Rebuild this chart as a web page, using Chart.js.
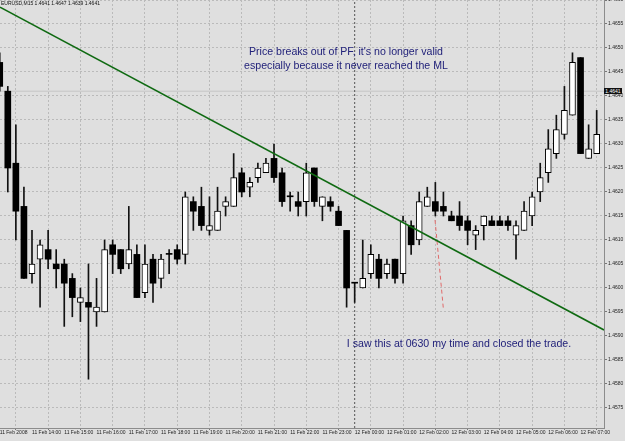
<!DOCTYPE html>
<html>
<head>
<meta charset="utf-8">
<script src="https://cdn.jsdelivr.net/npm/chart.js@4.4.1/dist/chart.umd.min.js"></script>
<style>
html,body{margin:0;padding:0;background:#dfdfdf;}
#wrap{position:relative;width:625px;height:441px;overflow:hidden;background:#dfdfdf;}
canvas{position:absolute;left:0;top:0;}
.note{position:absolute;font-family:'Liberation Sans',Arial,sans-serif;font-size:10.6px;color:#22227a;white-space:nowrap;text-align:center;line-height:13px;width:300px;}
.hdr{position:absolute;left:1px;top:0px;font-family:'Liberation Sans',Arial,sans-serif;font-size:5px;line-height:7px;color:#111;white-space:nowrap;}
.bid{position:absolute;left:604px;width:18px;height:6px;background:#111;color:#fff;font-family:'Liberation Sans',Arial,sans-serif;font-size:5px;line-height:6px;text-align:center;}
</style>
</head>
<body>
<div id="wrap">
<canvas id="c" width="625" height="441"></canvas>
<div class="hdr" id="hdr"></div>
<div class="bid" id="bidLbl"></div>
<div class="note" style="left:196px;top:45px;">Price breaks out of PF, it's no longer valid</div>
<div class="note" style="left:196px;top:59px;">especially because it never reached the ML</div>
<div class="note" style="left:309px;top:337px;">I saw this at 0630 my time and closed the trade.</div>
</div>
<script>
// ---- data (EURUSD M15, 11 Feb 2008 13:00 -> 12 Feb 07:30) ----
const opens  = [1.4647,1.4641,1.4626,1.4617,1.4603,1.4606,1.4608,1.4605,1.4605,1.4602,
                1.4597,1.4597,1.4595,1.4595,1.4609,1.4608,1.4605,1.4607,1.4599,1.4606,
                1.4602,1.4607,1.4608,1.4607,1.4618,1.4617,1.4612,1.4612,1.4617,1.4617,
                1.4624,1.4621,1.4623,1.4624,1.4627,1.4624,1.4619,1.4618,1.4618,1.4625,
                1.4617,1.4618,1.4616,1.4612,1.4601,1.4600,1.4603,1.4606,1.4603,1.4606,
                1.4603,1.4613,1.4610,1.4617,1.4618,1.4617,1.4615,1.4615,1.4614,1.4611,
                1.4613,1.4614,1.4614,1.4614,1.4611,1.4612,1.4615,1.4620,1.4624,1.4628,
                1.4632,1.4636,1.4648,1.4627,1.4628];
const highs  = [1.4649,1.4642,1.4634,1.4621,1.4612,1.4610,1.4612,1.4608,1.4606,1.4603,
                1.4600,1.4605,1.4602,1.4610,1.4610,1.4608,1.4617,1.4609,1.4609,1.4607,
                1.4607,1.4608,1.4609,1.4620,1.4619,1.4621,1.4619,1.4621,1.4619,1.4628,
                1.4625,1.4623,1.4626,1.4627,1.4630,1.4625,1.4620,1.4620,1.4626,1.4625,
                1.4619,1.4619,1.4617,1.4612,1.4601,1.4610,1.4609,1.4607,1.4606,1.4606,
                1.4615,1.4614,1.4620,1.4621,1.4622,1.4620,1.4616,1.4618,1.4615,1.4613,
                1.4615,1.4615,1.4615,1.4615,1.4614,1.4618,1.4620,1.4626,1.4633,1.4636,
                1.4642,1.4649,1.4648,1.4634,1.4637];
const lows   = [1.4641,1.4620,1.4610,1.4602,1.4601,1.4596,1.4604,1.4600,1.4592,1.4594,
                1.4593,1.4581,1.4592,1.4595,1.4603,1.4603,1.4604,1.4598,1.4598,1.4597,
                1.4600,1.4603,1.4605,1.4605,1.4612,1.4612,1.4611,1.4612,1.4615,1.4617,
                1.4619,1.4619,1.4622,1.4624,1.4622,1.4617,1.4616,1.4615,1.4615,1.4617,
                1.4614,1.4616,1.4613,1.4596,1.4597,1.4600,1.4602,1.4600,1.4602,1.4601,
                1.4601,1.4607,1.4609,1.4617,1.4615,1.4615,1.4614,1.4612,1.4609,1.4608,
                1.4610,1.4613,1.4613,1.4612,1.4606,1.4612,1.4613,1.4618,1.4622,1.4627,
                1.4631,1.4636,1.4628,1.4627,1.4628];
const closes = [1.4642,1.4625,1.4616,1.4602,1.4605,1.4609,1.4606,1.4604,1.4601,1.4598,
                1.4598,1.4596,1.4596,1.4608,1.4607,1.4604,1.4608,1.4598,1.4605,1.4601,
                1.4606,1.4607,1.4606,1.4619,1.4616,1.4613,1.4613,1.4616,1.4618,1.4623,
                1.4620,1.4622,1.4625,1.4626,1.4623,1.4618,1.4619,1.4617,1.4624,1.4618,
                1.4619,1.4617,1.4613,1.4600,1.4601,1.4602,1.4607,1.4602,1.4605,1.4602,
                1.4614,1.4609,1.4618,1.4619,1.4616,1.4616,1.4614,1.4613,1.4612,1.4612,
                1.4615,1.4613,1.4613,1.4613,1.4613,1.4616,1.4619,1.4623,1.4629,1.4633,
                1.4637,1.4647,1.4628,1.4629,1.4632];

const tickBars   = [0,4,8,12,16,20,24,28,32,36,40,44,48,52,56,60,64,68,72];
const tickLabels = ["11 Feb 2008","11 Feb 14:00","11 Feb 15:00","11 Feb 16:00","11 Feb 17:00",
                    "11 Feb 18:00","11 Feb 19:00","11 Feb 20:00","11 Feb 21:00","11 Feb 22:00",
                    "11 Feb 23:00","12 Feb 00:00","12 Feb 01:00","12 Feb 02:00","12 Feb 03:00",
                    "12 Feb 04:00","12 Feb 05:00","12 Feb 06:00","12 Feb 07:00"];
const priceTicks = [1.4575,1.4580,1.4585,1.4590,1.4595,1.4600,1.4605,1.4610,1.4615,
                    1.4620,1.4625,1.4630,1.4635,1.4640,1.4645,1.4650,1.4655,1.4660];

const trendX = [0.0335, 74.907];
const trendY = [1.46585, 1.459125];
const redX   = [53.96, 54.99];
const redY   = [1.461417, 1.459577];
const daySeparatorBar = 44;
const bidPrice = 1.4641;
const headerQuote = ["EURUSD,M15", "1.4641", "1.4647", "1.4639", "1.4641"];

const xMin = 0.0335, xMax = 74.907;
const yMin = 1.457083, yMax = 1.4660;

document.getElementById('hdr').textContent = headerQuote[0] + '  ' + headerQuote.slice(1).join(' ');
const bidLbl = document.getElementById('bidLbl');
bidLbl.textContent = bidPrice.toFixed(4);

// ---- build datasets ----
const bull = [], bear = [], wick = [];
opens.forEach((o, i) => {
  const c = closes[i];
  wick.push({x: i, y: [lows[i], highs[i]]});
  if (c > o) bull.push({x: i, y: [o, c]});
  else bear.push({x: i, y: [c, o]});
});

const axisFont = {size: 5, family: "'Liberation Sans Narrow','Liberation Sans',Arial,sans-serif"};

const chart = new Chart(document.getElementById('c'), {
  type: 'bar',
  data: {
    datasets: [
      {type: 'line', order: 0, data: trendX.map((x, i) => ({x, y: trendY[i]})),
       borderColor: '#0f6a12', borderWidth: 1.6, pointRadius: 0, fill: false, tension: 0},
      {type: 'line', order: 1, data: redX.map((x, i) => ({x, y: redY[i]})),
       borderColor: '#e06a6a', borderWidth: 1, borderDash: [4, 3], pointRadius: 0, fill: false},
      {type: 'bar', order: 2, data: bear, backgroundColor: '#000', borderColor: '#000',
       borderWidth: 0, barThickness: 6, maxBarThickness: 6, minBarLength: 1, grouped: false},
      {type: 'bar', order: 2, data: bull, backgroundColor: '#fff', borderColor: '#000',
       borderWidth: 1, borderSkipped: false, barThickness: 6, maxBarThickness: 6, grouped: false},
      {type: 'bar', order: 3, data: wick, backgroundColor: '#111', borderWidth: 0,
       barThickness: 1, maxBarThickness: 1, grouped: false},
      {type: 'line', order: 4, data: [{x: daySeparatorBar, y: yMin}, {x: daySeparatorBar, y: yMax}],
       borderColor: '#555', borderWidth: 1, borderDash: [2, 2], pointRadius: 0, fill: false},
      {type: 'line', order: 5, data: [{x: xMin, y: bidPrice}, {x: xMax, y: bidPrice}],
       borderColor: '#c6c6c6', borderWidth: 1, pointRadius: 0, fill: false}
    ]
  },
  options: {
    responsive: false,
    animation: false,
    devicePixelRatio: 1,
    layout: {padding: 0},
    plugins: {legend: {display: false}, tooltip: {enabled: false}, title: {display: false}},
    scales: {
      x: {
        type: 'linear', min: xMin, max: xMax, offset: false,
        afterBuildTicks: s => { s.ticks = tickBars.map(v => ({value: v})); },
        afterFit: s => { s.height = 13; s.paddingLeft = 0; s.paddingRight = 0; },
        ticks: {autoSkip: false, maxRotation: 0, minRotation: 0, align: 'start', padding: 0,
                color: '#222', font: axisFont,
                callback: (v, i) => tickLabels[i]},
        grid: {color: '#bababa', lineWidth: 1, drawTicks: true, tickLength: 2, tickColor: '#777'},
        border: {display: true, color: '#8c8c8c', width: 1, dash: [2, 2]}
      },
      y: {
        type: 'linear', position: 'right', min: yMin, max: yMax,
        afterBuildTicks: s => { s.ticks = priceTicks.map(v => ({value: v})); },
        afterFit: s => { s.width = 21; s.paddingTop = 0; s.paddingBottom = 0; },
        ticks: {padding: 1, color: '#222', font: {size: 5, family: "'Liberation Sans',Arial,sans-serif"},
                callback: v => Number(v).toFixed(4)},
        grid: {color: '#bababa', lineWidth: 1, drawTicks: true, tickLength: 3, tickColor: '#777'},
        border: {display: true, color: '#8c8c8c', width: 1, dash: [2, 2]}
      }
    }
  }
});

const ys = chart.scales.y.getPixelForValue(bidPrice);
bidLbl.style.top = (ys - 3) + 'px';
</script>
</body>
</html>
